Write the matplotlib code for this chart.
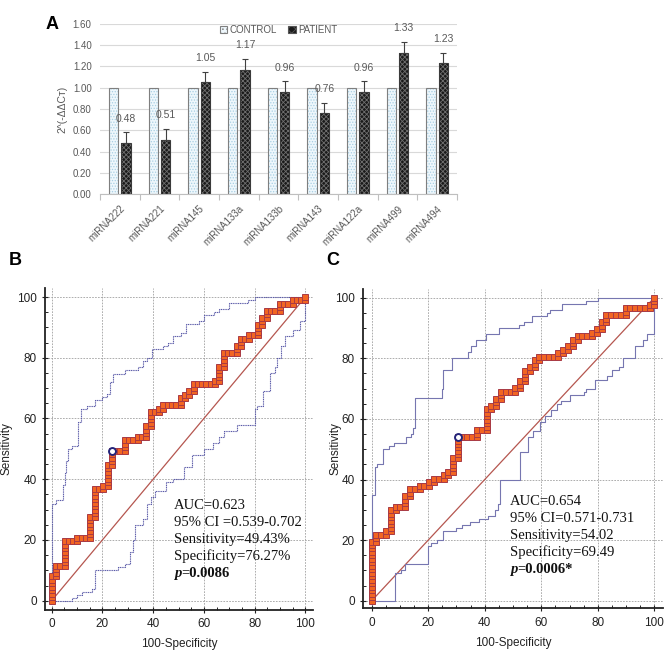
import numpy as np
import matplotlib
matplotlib.use("Agg")
import matplotlib.pyplot as plt
from matplotlib import font_manager as fm
from matplotlib.patches import Patch

names = {f.name for f in fm.fontManager.ttflist}
SANS = "Liberation Sans Narrow" if "Liberation Sans Narrow" in names else "Liberation Sans"
SERIF = "Liberation Serif"
plt.rcParams["font.family"] = [SANS, "DejaVu Sans"]
plt.rcParams["hatch.linewidth"] = 0.6

# ---------------- Panel A data ----------------
mirnas = ["miRNA222", "miRNA221", "miRNA145", "miRNA133a", "miRNA133b",
          "miRNA143", "miRNA122a", "miRNA499", "miRNA494"]
control = [1.00, 1.00, 1.00, 1.00, 1.00, 1.00, 1.00, 1.00, 1.00]
patient = [0.48, 0.51, 1.05, 1.17, 0.96, 0.76, 0.96, 1.33, 1.23]
patient_err = [0.10, 0.10, 0.10, 0.10, 0.10, 0.10, 0.10, 0.10, 0.10]
yticks_a = [0.00, 0.20, 0.40, 0.60, 0.80, 1.00, 1.20, 1.40, 1.60]

# ---------------- ROC data (ranked steps: right = control, up = patient) ----------------
n_neg, n_pos = 59, 87
roc_b_runs = [(0, 7), (1, 3), (2, 7), (3, 1), (3, 6), (1, 8), (2, 1), (1, 6), (1, 4),
              (3, 3), (3, 1), (2, 3), (1, 4), (2, 1), (1, 1), (4, 2), (1, 1), (1, 1),
              (1, 2), (5, 1), (1, 4), (1, 4), (3, 2), (1, 2), (2, 1), (2, 3), (1, 2),
              (1, 2), (3, 2), (3, 1), (3, 1)]
roc_c_runs = [(0, 17), (1, 2), (2, 1), (1, 6), (1, 1), (2, 3), (1, 2), (2, 1), (2, 1),
              (1, 1), (2, 1), (1, 1), (1, 4), (1, 6), (4, 2), (2, 6), (1, 1), (1, 2),
              (1, 2), (3, 1), (1, 2), (1, 3), (1, 1), (1, 2), (1, 1), (4, 1), (1, 1),
              (1, 1), (1, 2), (1, 1), (3, 1), (1, 1), (1, 2), (1, 2), (4, 2), (5, 1), (1, 2)]
cut_b = (23.73, 49.43)
cut_c = (30.51, 54.02)

ci_b_upper_x = [0, 0, 1.7, 4.6, 5.2, 5.8, 6.6, 8, 10.5, 11.5, 14, 17, 20, 22, 23, 24, 29, 34, 36,
                37.5, 39.7, 44, 46, 48, 51, 53, 58, 60, 64, 66, 70, 77.5, 80, 100]
ci_b_upper_y = [0, 32, 33, 38, 42, 46, 50, 51, 59, 63, 64, 66, 67, 68, 72, 74.5, 76, 77, 79,
                80, 83, 84, 85, 87, 88, 91, 92, 94, 95, 96, 98, 99, 100, 100]
ci_b_lower_x = [0, 7.9, 10, 11.8, 16, 17, 26, 29, 30.9, 32.2, 33, 36, 37.5, 39, 40.7, 45, 48,
                52, 55.2, 60, 63.7, 66, 68, 73, 80, 81, 83.4, 86, 88, 89, 90.5, 92, 95, 98, 100]
ci_b_lower_y = [0, 1, 2, 3, 4, 10, 11, 12, 16, 20, 25, 27, 32, 34, 36, 39, 40,
                44, 48, 50, 52, 54, 56, 58, 63, 64, 69, 75, 77, 80, 84, 87, 89, 92, 100]
ci_c_upper_x = [0, 0, 1, 2, 4.1, 6, 8, 12, 14, 14.7, 15.3, 24.8, 25.4, 28.3, 34, 35, 37, 40.3,
                45, 52, 54, 56.6, 62, 63, 67.2, 76, 80, 100]
ci_c_upper_y = [0, 35, 44, 45, 50, 51, 52, 54, 55, 57, 67, 70, 76, 80, 82, 84, 86, 88,
                90, 91, 92, 94, 95, 96, 98, 99, 100, 100]
ci_c_lower_x = [0, 8.3, 10.5, 11.8, 20, 21, 23, 25.4, 30, 32, 34.8, 38, 41, 43.5, 44.8, 45.5,
                52.5, 55.4, 57, 59.6, 61.5, 63.5, 65.5, 67, 70, 75, 76, 79, 83.1, 85, 87.5,
                89, 93, 96, 97.3, 100]
ci_c_lower_y = [0, 9, 10, 12, 18, 19, 20, 23, 24, 25, 26, 27, 28, 30, 32, 40,
                49, 54, 56, 59, 61, 63, 65, 66, 68, 69, 70, 73, 74, 76, 77,
                80, 84, 86, 88, 100]

text_b = ["AUC=0.623", "95% CI =0.539-0.702", "Sensitivity=49.43%", "Specificity=76.27%"]
p_b = "=0.0086"
text_c = ["AUC=0.654", "95% CI=0.571-0.731", "Sensitivity=54.02", "Specificity=69.49"]
p_c = "=0.0006*"
roc_ticks = [0, 20, 40, 60, 80, 100]

fig = plt.figure(figsize=(6.69, 6.57), dpi=100)

# ================= Panel A =================
axA = fig.add_axes([0.1495, 0.7047, 0.5336, 0.2588])
x = np.arange(len(mirnas))
w = 0.24
off = 0.155
grey_txt = "#595959"
axA.bar(x - off, control, w, color="#eef7fc", edgecolor="#a8cfe3", hatch="......", lw=0, zorder=2)
axA.bar(x - off, control, w, fill=False, edgecolor="#7f7f7f", lw=0.8, zorder=3)
axA.bar(x + off, patient, w, color="#1a1a1a", edgecolor="#6e6e6e", hatch="xxxxxxx", lw=0, zorder=2)
axA.bar(x + off, patient, w, fill=False, edgecolor="#3a3a3a", lw=0.8, zorder=3)
axA.errorbar(x + off, patient, yerr=[np.zeros(len(patient)), patient_err], fmt="none",
             ecolor="#404040", elinewidth=0.8, capsize=2, capthick=0.8, zorder=4)
for xi, v, e in zip(x, patient, patient_err):
    axA.text(xi + off, v + e + 0.13, f"{v:.2f}", ha="center", va="center",
             fontsize=7.5, color=grey_txt)
axA.set_xlim(-0.5, len(mirnas) - 0.5)
axA.set_ylim(0, 1.6)
axA.set_yticks(yticks_a)
axA.set_yticklabels([f"{t:.2f}" for t in yticks_a], fontsize=7, color=grey_txt)
axA.yaxis.grid(True, color="#d9d9d9", lw=0.8, zorder=0)
axA.set_axisbelow(True)
for s in ["top", "right", "left"]:
    axA.spines[s].set_visible(False)
axA.spines["bottom"].set_color("#bfbfbf")
axA.tick_params(axis="y", length=0, pad=6)
axA.set_xticks(np.arange(len(mirnas) + 1) - 0.5)
axA.set_xticklabels([])
axA.tick_params(axis="x", which="major", length=4, color="#bfbfbf")
axA.set_xticks(x, minor=True)
axA.set_xticklabels(mirnas, minor=True, rotation=45, ha="right", rotation_mode="anchor",
                    fontsize=7, color=grey_txt)
axA.tick_params(axis="x", which="minor", length=0, pad=7)
axA.set_ylabel("2^(-ΔΔCт)", fontsize=7.5, color=grey_txt)
axA.yaxis.set_label_coords(-0.09, 0.5)
h1 = Patch(facecolor="#eef7fc", edgecolor="#7f7f7f", hatch="....", lw=0.8)
h2 = Patch(facecolor="#1a1a1a", edgecolor="#555555", hatch="xxxx", lw=0.8)
axA.legend([h1, h2], ["CONTROL", "PATIENT"], loc="upper center", bbox_to_anchor=(0.5, 1.045),
           ncol=2, frameon=False, fontsize=7, handlelength=0.8, handleheight=0.8,
           handletextpad=0.2, columnspacing=1.2, labelcolor=grey_txt)
fig.text(0.078, 0.962, "A", fontsize=13, fontweight="bold", family="Liberation Sans",
         ha="center", va="center")


def roc_points(runs):
    i = j = 0
    xs, ys = [0.0], [0.0]
    for r, u in runs:
        for _ in range(r):
            i += 1
            xs.append(i / n_neg * 100)
            ys.append(j / n_pos * 100)
        for _ in range(u):
            j += 1
            xs.append(i / n_neg * 100)
            ys.append(j / n_pos * 100)
    return np.array(xs), np.array(ys)


def roc_panel(rect, xlim, ylim, runs, cut, up_x, up_y, lo_x, lo_y, lines, pval, tx, ty,
              ci_ls, ci_col, ylab_x):
    ax = fig.add_axes(rect)
    ax.set_xlim(*xlim)
    ax.set_ylim(*ylim)
    ax.set_xticks(roc_ticks)
    ax.set_yticks(roc_ticks)
    ax.set_xticks(np.arange(0, 101, 5), minor=True)
    ax.set_yticks(np.arange(0, 101, 5), minor=True)
    ax.grid(True, which="major", color="#a0a0a0", lw=0.6, ls=(0, (2, 1.5)), zorder=0)
    ax.spines["top"].set_visible(False)
    ax.spines["right"].set_visible(False)
    for s in ["left", "bottom"]:
        ax.spines[s].set_linewidth(1.3)
        ax.spines[s].set_color("#222222")
    ax.tick_params(which="major", length=5, width=0.8, direction="inout", labelsize=8.5,
                   colors="#222222")
    ax.tick_params(which="minor", length=2.5, width=0.6, direction="in")
    ax.plot([0, 100], [0, 100], color="#b5564f", lw=0.9, zorder=2)
    ax.plot(up_x, up_y, drawstyle="steps-post", color=ci_col, lw=0.8, ls=ci_ls, zorder=2)
    ax.plot(lo_x, lo_y, drawstyle="steps-post", color=ci_col, lw=0.8, ls=ci_ls, zorder=2)
    rx, ry = roc_points(runs)
    ax.plot(rx, ry, "-", color="#b03a3e", lw=1.0, marker="s", ms=4.9, mfc="#f26522",
            mec="#a83a45", mew=0.7, zorder=4, clip_on=False)
    ax.plot([cut[0]], [cut[1]], "o", ms=5, mfc="white", mec="#24247a", mew=1.4, zorder=6)
    ax.set_xlabel("100-Specificity", fontsize=8.5, color="#222222", labelpad=6)
    ax.set_ylabel("Sensitivity", fontsize=8.5, color="#222222")
    ax.yaxis.set_label_coords(ylab_x, 0.5)
    step = 5.6
    for k, line in enumerate(lines):
        ax.text(tx, ty - k * step, line, family=SERIF, fontsize=10.5, va="baseline",
                ha="left", color="#111111", zorder=7)
    t1 = ax.text(tx, ty - 4 * step, "p", family=SERIF, fontsize=10.5, va="baseline",
                 ha="left", fontweight="bold", fontstyle="italic", color="#111111", zorder=7)
    ax.annotate(pval, xy=(1, 0), xycoords=t1, va="bottom", ha="left", family=SERIF,
                fontsize=10.5, fontweight="bold", color="#111111", zorder=7)
    return ax


roc_panel([0.0673, 0.0718, 0.4006, 0.49], (-2.6, 103), (-3, 103), roc_b_runs, cut_b,
          ci_b_upper_x, ci_b_upper_y, ci_b_lower_x, ci_b_lower_y, text_b, p_b, 48.2, 30.1,
          (0, (1, 0.6)), "#5a5aa8", -0.123)
roc_panel([0.5429, 0.0741, 0.4478, 0.4866], (-3, 103), (-2.5, 103), roc_c_runs, cut_c,
          ci_c_upper_x, ci_c_upper_y, ci_c_lower_x, ci_c_lower_y, text_c, p_c, 48.9, 31.6,
          "-", "#7676b0", -0.072)

fig.text(0.0224, 0.604, "B", fontsize=13, fontweight="bold", family="Liberation Sans",
         ha="center", va="center")
fig.text(0.498, 0.603, "C", fontsize=13, fontweight="bold", family="Liberation Sans",
         ha="center", va="center")

fig.savefig("out.png", dpi=100)
